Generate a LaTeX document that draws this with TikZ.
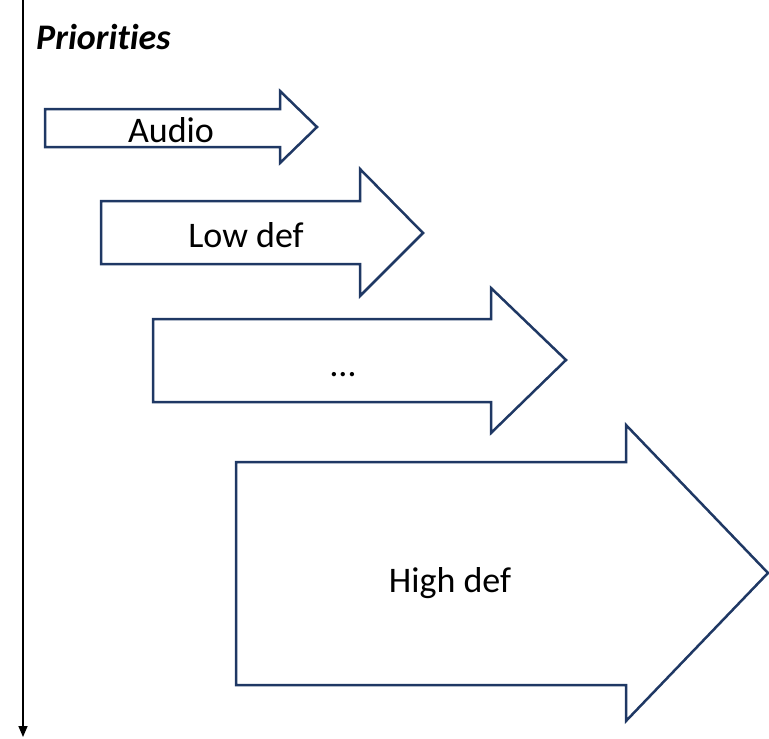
\documentclass[tikz,border=0pt]{standalone}
\usepackage{fontspec}
\setmainfont[Ligatures=NoCommon]{Carlito}
\usetikzlibrary{arrows.meta}
\definecolor{navy}{HTML}{1F3864}
\tikzset{
  bigarrow/.style={draw=navy, line width=2.5pt, fill=white, line join=miter},
  lbl/.style={font=\fontsize{36}{40}\selectfont, inner sep=0pt, anchor=base},
  axis/.style={draw=black, line width=1.5pt, -{Triangle[length=11pt,width=9pt]}}
}
\begin{document}
\begin{tikzpicture}[x=1pt,y=-1pt]
\useasboundingbox (0,0) rectangle (769,739);
% axis
\coordinate (axtop) at (23,0);
\coordinate (axbot) at (23,737);
\draw[axis] (axtop) -- (axbot);
\node[font=\fontsize{36}{40}\selectfont\bfseries\itshape, anchor=base west, inner sep=0pt] (prio) at (36,49) {Priorities};
% Audio arrow
\draw[bigarrow] (45,109) -- (280,109) -- (280,91) -- (317,127) -- (280,163) -- (280,147) -- (45,147) -- cycle;
\node[lbl] (audio) at (171,142) {Audio};
% Low def arrow
\draw[bigarrow] (101,201) -- (360,201) -- (360,169) -- (423,233) -- (360,296) -- (360,264) -- (101,264) -- cycle;
\node[lbl] (low) at (246,247) {Low def};
% ... arrow
\draw[bigarrow] (153,319) -- (491,319) -- (491,288) -- (566,360) -- (491,433) -- (491,402) -- (153,402) -- cycle;
\node[lbl] (dots) at (343,376) {…};
% High def arrow
\draw[bigarrow] (236,462) -- (626,462) -- (626,425) -- (768,573) -- (626,721) -- (626,685) -- (236,685) -- cycle;
\node[lbl] (high) at (450,592) {High def};
\end{tikzpicture}
\end{document}
